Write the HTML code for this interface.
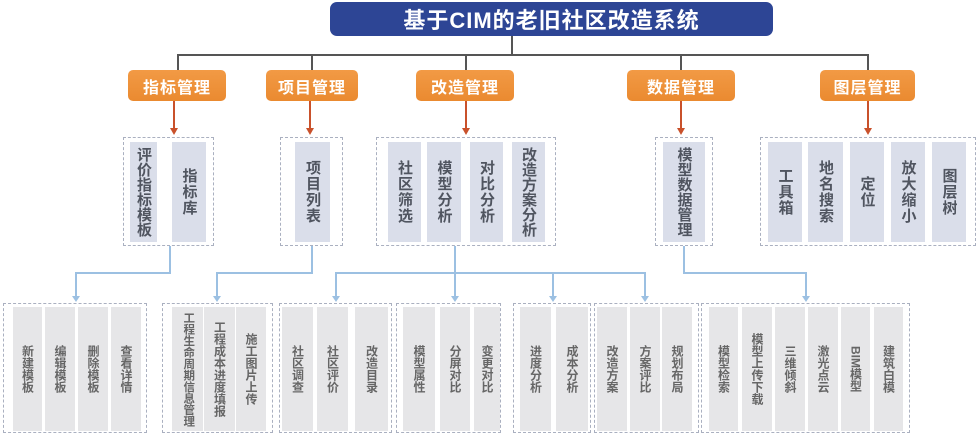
<!DOCTYPE html>
<html><head><meta charset="utf-8">
<style>
html,body{margin:0;padding:0;background:#fff;}
body{width:978px;height:435px;position:relative;overflow:hidden;font-family:"Liberation Sans","Noto Sans CJK SC",sans-serif;}
.a{position:absolute;box-sizing:border-box;}
.title{left:330px;top:2px;width:443px;height:34px;background:#2d4595;border-radius:7px;color:#fff;font-weight:bold;font-size:22px;display:flex;align-items:center;justify-content:center;letter-spacing:1px;}
.or{top:70px;height:31px;background:linear-gradient(#f29a45,#ea8a30);border-radius:5px;color:#fff;font-weight:bold;font-size:16px;display:flex;align-items:center;justify-content:center;letter-spacing:1px;}
.dash{border:1px dashed #aab0c0;}
.c2{top:142px;height:100px;background:#dadeea;color:#505560;font-weight:bold;font-size:15px;display:flex;align-items:center;justify-content:center;}
.c3{top:307px;height:124px;background:#e6e6e8;color:#666;font-weight:bold;font-size:12px;display:flex;align-items:center;justify-content:center;}
.v{writing-mode:vertical-rl;line-height:1;white-space:nowrap;}
.c2 .v{letter-spacing:1px;}
.c2 .t{letter-spacing:0;font-size:15px;}
.c3 .t{font-size:11.5px;}
.gl{background:#555;}
.rl{background:#c9512b;}
.bl{background:#9cc0e2;}
.ra{width:0;height:0;border-left:4px solid transparent;border-right:4px solid transparent;border-top:7px solid #c9512b;}
.ba{width:0;height:0;border-left:4px solid transparent;border-right:4px solid transparent;border-top:6px solid #9cc0e2;}
</style></head><body>
<div class="a title">基于CIM的老旧社区改造系统</div>
<div class="a gl" style="left:511px;top:36px;width:2px;height:19px"></div>
<div class="a gl" style="left:177px;top:54px;width:692px;height:2px"></div>
<div class="a gl" style="left:177px;top:54px;width:2px;height:16px"></div>
<div class="a gl" style="left:311px;top:54px;width:2px;height:16px"></div>
<div class="a gl" style="left:465px;top:54px;width:2px;height:16px"></div>
<div class="a gl" style="left:680px;top:54px;width:2px;height:16px"></div>
<div class="a gl" style="left:867px;top:54px;width:2px;height:16px"></div>

<div class="a or" style="left:128px;width:98px">指标管理</div>
<div class="a or" style="left:266px;width:92px">项目管理</div>
<div class="a or" style="left:416px;width:98px">改造管理</div>
<div class="a or" style="left:627px;width:108px">数据管理</div>
<div class="a or" style="left:820px;width:95px">图层管理</div>

<div class="a rl" style="left:173px;top:101px;width:2px;height:28px"></div><div class="a ra" style="left:170px;top:128px"></div>
<div class="a rl" style="left:309px;top:101px;width:2px;height:28px"></div><div class="a ra" style="left:306px;top:128px"></div>
<div class="a rl" style="left:465px;top:101px;width:2px;height:28px"></div><div class="a ra" style="left:462px;top:128px"></div>
<div class="a rl" style="left:680px;top:101px;width:2px;height:28px"></div><div class="a ra" style="left:677px;top:128px"></div>
<div class="a rl" style="left:867px;top:101px;width:2px;height:28px"></div><div class="a ra" style="left:864px;top:128px"></div>

<div class="a dash" style="left:123px;top:137px;width:91px;height:109px"></div>
<div class="a c2" style="left:130px;width:27px"><span class="v t">评价指标模板</span></div>
<div class="a c2" style="left:172px;width:34px"><span class="v">指标库</span></div>
<div class="a dash" style="left:280px;top:137px;width:63px;height:109px"></div>
<div class="a c2" style="left:295px;width:35px"><span class="v">项目列表</span></div>
<div class="a dash" style="left:376px;top:137px;width:180px;height:109px"></div>
<div class="a c2" style="left:388px;width:33px"><span class="v">社区筛选</span></div>
<div class="a c2" style="left:427px;width:34px"><span class="v">模型分析</span></div>
<div class="a c2" style="left:470px;width:33px"><span class="v">对比分析</span></div>
<div class="a c2" style="left:512px;width:33px"><span class="v t">改造方案分析</span></div>
<div class="a dash" style="left:655px;top:137px;width:58px;height:109px"></div>
<div class="a c2" style="left:663px;width:42px"><span class="v t">模型数据管理</span></div>
<div class="a dash" style="left:760px;top:137px;width:216px;height:109px"></div>
<div class="a c2" style="left:768px;width:34px"><span class="v">工具箱</span></div>
<div class="a c2" style="left:808px;width:35px"><span class="v">地名搜索</span></div>
<div class="a c2" style="left:850px;width:34px"><span class="v">定位</span></div>
<div class="a c2" style="left:891px;width:34px"><span class="v">放大缩小</span></div>
<div class="a c2" style="left:932px;width:34px"><span class="v">图层树</span></div>

<div class="a bl" style="left:169px;top:246px;width:2px;height:27px"></div>
<div class="a bl" style="left:75px;top:272px;width:96px;height:2px"></div>
<div class="a bl" style="left:75px;top:272px;width:2px;height:25px"></div><div class="a ba" style="left:72px;top:296px"></div>
<div class="a bl" style="left:311px;top:246px;width:2px;height:27px"></div>
<div class="a bl" style="left:216px;top:272px;width:97px;height:2px"></div>
<div class="a bl" style="left:216px;top:272px;width:2px;height:25px"></div><div class="a ba" style="left:213px;top:296px"></div>
<div class="a bl" style="left:454px;top:246px;width:2px;height:27px"></div>
<div class="a bl" style="left:335px;top:272px;width:311px;height:2px"></div>
<div class="a bl" style="left:335px;top:272px;width:2px;height:25px"></div><div class="a ba" style="left:332px;top:296px"></div>
<div class="a bl" style="left:454px;top:272px;width:2px;height:25px"></div><div class="a ba" style="left:451px;top:296px"></div>
<div class="a bl" style="left:552px;top:272px;width:2px;height:25px"></div><div class="a ba" style="left:549px;top:296px"></div>
<div class="a bl" style="left:644px;top:272px;width:2px;height:25px"></div><div class="a ba" style="left:641px;top:296px"></div>
<div class="a bl" style="left:683px;top:246px;width:2px;height:27px"></div>
<div class="a bl" style="left:683px;top:272px;width:124px;height:2px"></div>
<div class="a bl" style="left:805px;top:272px;width:2px;height:25px"></div><div class="a ba" style="left:802px;top:296px"></div>

<div class="a dash" style="left:3px;top:303px;width:144px;height:130px"></div>
<div class="a c3" style="left:13px;width:29px"><span class="v">新建模板</span></div>
<div class="a c3" style="left:45px;width:30px"><span class="v">编辑模板</span></div>
<div class="a c3" style="left:78px;width:30px"><span class="v">删除模板</span></div>
<div class="a c3" style="left:111px;width:30px"><span class="v">查看详情</span></div>
<div class="a dash" style="left:162px;top:303px;width:111px;height:130px"></div>
<div class="a c3" style="left:172px;width:31px"><span class="v t">工程生命周期信息管理</span></div>
<div class="a c3" style="left:204px;width:31px"><span class="v">工程成本进度填报</span></div>
<div class="a c3" style="left:236px;width:30px"><span class="v">施工图片上传</span></div>
<div class="a dash" style="left:279px;top:303px;width:113px;height:130px"></div>
<div class="a c3" style="left:282px;width:31px"><span class="v">社区调查</span></div>
<div class="a c3" style="left:317px;width:31px"><span class="v">社区评价</span></div>
<div class="a c3" style="left:355px;width:33px"><span class="v">改造目录</span></div>
<div class="a dash" style="left:396px;top:303px;width:105px;height:130px"></div>
<div class="a c3" style="left:403px;width:32px"><span class="v">模型属性</span></div>
<div class="a c3" style="left:440px;width:30px"><span class="v">分屏对比</span></div>
<div class="a c3" style="left:474px;width:26px"><span class="v">变更对比</span></div>
<div class="a dash" style="left:513px;top:303px;width:78px;height:130px"></div>
<div class="a c3" style="left:520px;width:31px"><span class="v">进度分析</span></div>
<div class="a c3" style="left:556px;width:32px"><span class="v">成本分析</span></div>
<div class="a dash" style="left:594px;top:303px;width:105px;height:130px"></div>
<div class="a c3" style="left:597px;width:30px"><span class="v">改造方案</span></div>
<div class="a c3" style="left:630px;width:30px"><span class="v">方案评比</span></div>
<div class="a c3" style="left:662px;width:30px"><span class="v">规划布局</span></div>
<div class="a dash" style="left:701px;top:303px;width:209px;height:130px"></div>
<div class="a c3" style="left:709px;width:29px"><span class="v">模型检索</span></div>
<div class="a c3" style="left:742px;width:30px"><span class="v">模型上传下载</span></div>
<div class="a c3" style="left:775px;width:30px"><span class="v">三维倾斜</span></div>
<div class="a c3" style="left:808px;width:30px"><span class="v">激光点云</span></div>
<div class="a c3" style="left:841px;width:29px"><span class="v">BIM模型</span></div>
<div class="a c3" style="left:874px;width:29px"><span class="v">建筑白模</span></div>
</body></html>
